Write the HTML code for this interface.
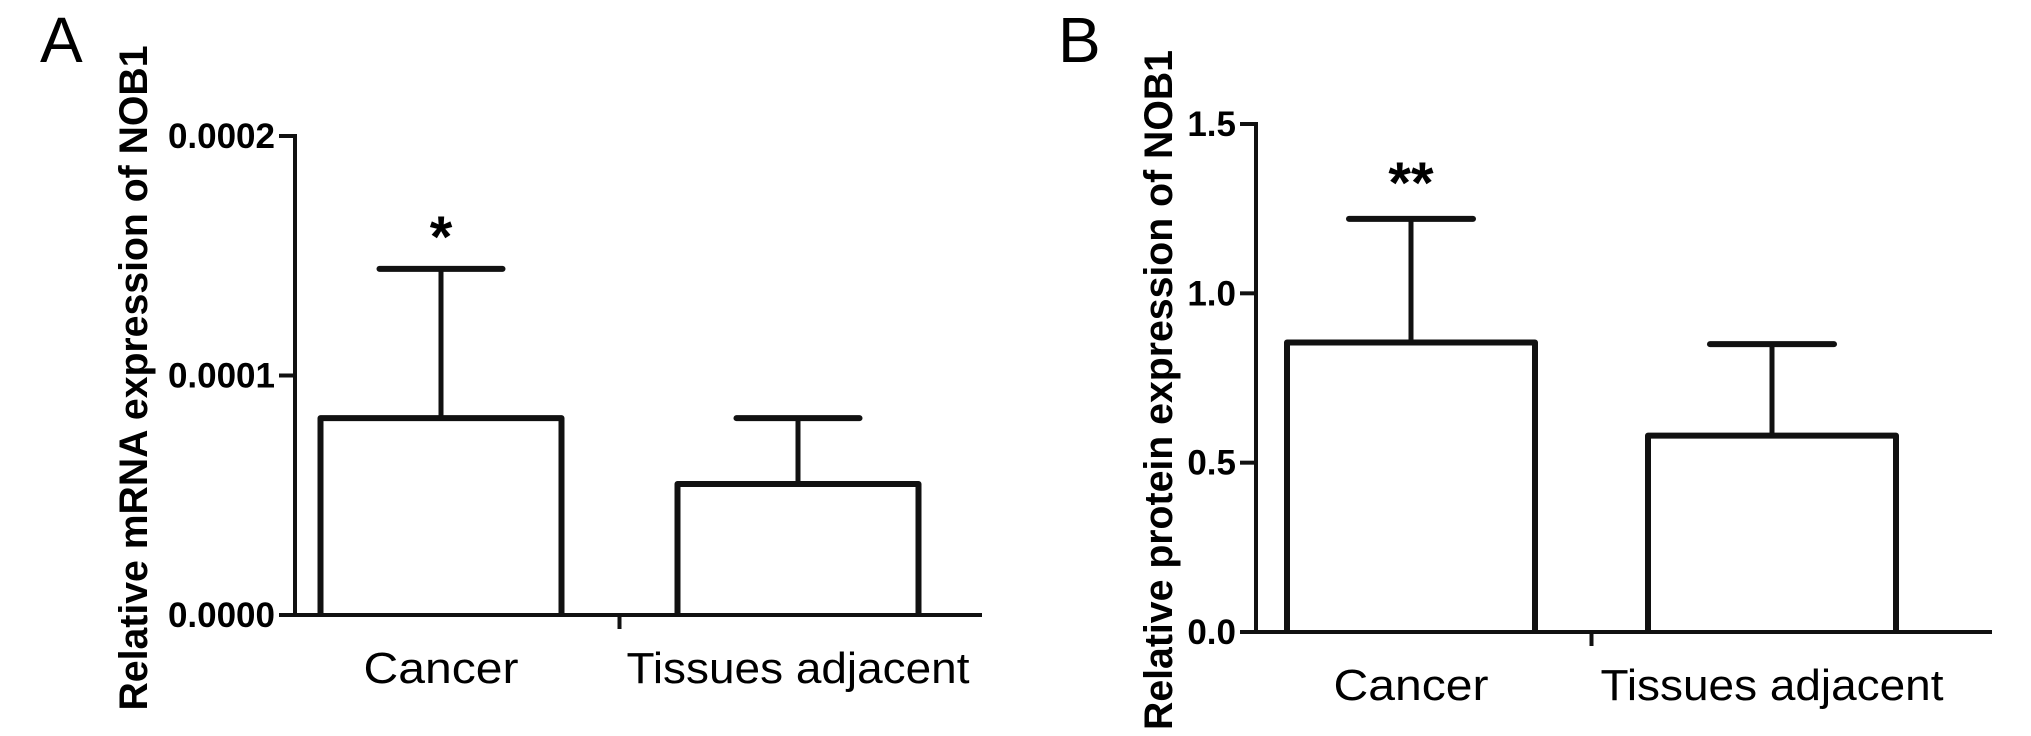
<!DOCTYPE html>
<html><head><meta charset="utf-8">
<style>html,body{margin:0;padding:0;background:#fff;}svg{display:block;}</style>
</head><body>
<svg id="fig" width="2031" height="736" viewBox="0 0 2031 736" xmlns="http://www.w3.org/2000/svg"></svg>
<script>
const categories = ["Cancer", "Tissues adjacent"];
const mrnaMeans = [0.0000822, 0.0000547];
const mrnaErrTop = [0.0001445, 0.0000822];
const mrnaTicks = [0, 0.0001, 0.0002];
const mrnaTickLabels = ["0.0000", "0.0001", "0.0002"];
const mrnaSig = ["*", ""];
const protMeans = [0.855, 0.58];
const protErrTop = [1.22, 0.85];
const protTicks = [0, 0.5, 1.0, 1.5];
const protTickLabels = ["0.0", "0.5", "1.0", "1.5"];
const protSig = ["**", ""];

const NS = "http://www.w3.org/2000/svg";
const svg = document.getElementById("fig");
function mk(tag, attrs, parent) {
  const e = document.createElementNS(NS, tag);
  for (const k in attrs) e.setAttribute(k, attrs[k]);
  (parent || svg).appendChild(e);
  return e;
}

function panel(cfg) {
  const g = mk("g", {});
  
  
  const y = v => cfg.y0 - (v - cfg.ymin) / (cfg.ymax - cfg.ymin) * (cfg.y0 - cfg.y1);
  const bx = i => cfg.x0 + cfg.firstCenter + i * cfg.step;
  const L = mk("text", {x: cfg.letterX, y: 62, "font-family": "Liberation Sans, sans-serif", "font-size": 64}, g);
  L.textContent = cfg.letter;
  
  
  const T = mk("text", {x: 0, y: 0, transform: `translate(${cfg.titleX},${cfg.titleCY}) rotate(-90)`, "text-anchor": "middle", "font-family": "Liberation Sans, sans-serif", "font-weight": "bold", "font-size": 40, textLength: cfg.titleLen, lengthAdjust: "spacingAndGlyphs"}, g);
  T.textContent = cfg.title;
  
  
  categories.forEach((c, i) => {
    const cx = bx(i), hw = cfg.barW / 2;
    const eb = mk("line", {x1: cx, y1: y(cfg.err[i]), x2: cx, y2: y(cfg.means[i]), stroke: "#111", "stroke-width": 5}, g);
    
    
    const cap = mk("line", {x1: cx - cfg.capW / 2, y1: y(cfg.err[i]), x2: cx + cfg.capW / 2, y2: y(cfg.err[i]), stroke: "#111", "stroke-width": 6, "stroke-linecap": "round"}, g);
    
    
    const bar = mk("path", {d: `M${cx - hw},${cfg.y0} V${y(cfg.means[i])} H${cx + hw} V${cfg.y0}`, fill: "none", stroke: "#111", "stroke-width": 6, "stroke-linejoin": "round"}, g);
    
    
    if (cfg.sig[i]) {
      const s = mk("text", {x: cx, y: y(cfg.err[i]) + 8 - cfg.sigGap, "text-anchor": "middle", "font-family": "Liberation Sans, sans-serif", "font-weight": "bold", "font-size": 58}, g);
      s.textContent = cfg.sig[i];
      
      
    }
    const lab = mk("text", {x: cx, y: cfg.labelY, "text-anchor": "middle", "font-family": "Liberation Sans, sans-serif", "font-size": 44, textLength: cfg.labelLens[i], lengthAdjust: "spacingAndGlyphs"}, g);
    lab.textContent = c;
    
    
  });
  const ya = mk("line", {x1: cfg.x0, y1: y(cfg.ymax) - 2, x2: cfg.x0, y2: cfg.y0 + 2, stroke: "#111", "stroke-width": 4}, g);
  
  
  cfg.ticks.forEach((t, i) => {
    const tl = mk("line", {x1: cfg.x0 - 16, y1: y(t), x2: cfg.x0, y2: y(t), stroke: "#111", "stroke-width": 4}, g);
    
    
    const tx = mk("text", {x: cfg.x0 - 20, y: y(t) + 12, "text-anchor": "end", "font-family": "Liberation Sans, sans-serif", "font-weight": "bold", "font-size": 35}, g);
    tx.textContent = cfg.tickLabels[i];
    
    
  });
  const xa = mk("line", {x1: cfg.x0 - 16, y1: cfg.y0, x2: cfg.xEnd, y2: cfg.y0, stroke: "#111", "stroke-width": 4}, g);
  
  
  const xt = mk("line", {x1: (bx(0) + bx(1)) / 2, y1: cfg.y0, x2: (bx(0) + bx(1)) / 2, y2: cfg.y0 + 14, stroke: "#111", "stroke-width": 4}, g);
  
  
}

panel({name: "panel-a", letter: "A", letterX: 40, title: "Relative mRNA expression of NOB1", titleX: 147, titleCY: 378, titleLen: 665,
  x0: 295, y0: 615, y1: 136, ymin: 0, ymax: 0.0002, xEnd: 982, firstCenter: 146, step: 357, barW: 241, capW: 123, sigGap: 20,
  means: mrnaMeans, err: mrnaErrTop, ticks: mrnaTicks, tickLabels: mrnaTickLabels, sig: mrnaSig, labelY: 683, labelLens: [155, 343]});
panel({name: "panel-b", letter: "B", letterX: 1058, title: "Relative protein expression of NOB1", titleX: 1172, titleCY: 390, titleLen: 680,
  x0: 1256, y0: 632, y1: 124, ymin: 0, ymax: 1.5, xEnd: 1992, firstCenter: 155, step: 361, barW: 248, capW: 124, sigGap: 24,
  means: protMeans, err: protErrTop, ticks: protTicks, tickLabels: protTickLabels, sig: protSig, labelY: 700, labelLens: [155, 343]});
</script>
</body></html>
